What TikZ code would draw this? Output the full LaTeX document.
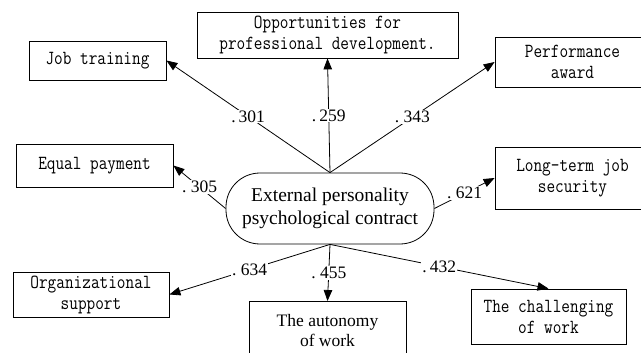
\documentclass[tikz,border=0pt]{standalone}
\usepackage{fontspec}
\setmainfont{Liberation Serif}
\newfontfamily\boxfont[FakeStretch=0.84]{Latin Modern Mono}
\usepackage{tikz}
\usetikzlibrary{positioning,arrows.meta,shapes}

\begin{document}
\begin{tikzpicture}[
        x=1pt, y=-1pt,
        item/.style={rectangle, draw=black, line width=0.8pt, align=center, inner sep=0pt, font=\boxfont\fontsize{20}{21}\selectfont},
        central/.style={rectangle, rounded corners=34pt, draw=black, line width=0.8pt, align=center, minimum width=208pt, minimum height=71pt, font=\fontsize{19.5}{23}\selectfont},
        plainbox/.style={rectangle, draw=black, line width=0.8pt, align=center, inner sep=0pt, font=\fontsize{17.5}{20}\selectfont},
        arrow/.style={-{Triangle[length=11pt,width=8.5pt]}, line width=0.8pt},
        weight/.style={fill=white, inner sep=1pt, font=\fontsize{17.5}{17.5}\selectfont}
    ]
    \useasboundingbox (0,0) rectangle (641,353);

    % Central construct
    \node[central] (centre) at (330,208.5) {External personality\\psychological contract};

    % Dimensions
    \node[item, minimum width=137pt, minimum height=39pt] (jobtr) at (97.5,60.5) {Job training};
    \node[item, minimum width=261pt, minimum height=46pt] (opport) at (327.5,35) {Opportunities for\\professional development.};
    \node[item, minimum width=155pt, minimum height=50pt] (perform) at (572.5,62) {Performance\\award};
    \node[item, minimum width=157pt, minimum height=43pt] (equal) at (94.5,165.5) {Equal payment};
    \node[item, minimum width=155pt, minimum height=62pt] (longterm) at (572.5,178) {Long-term job\\security};
    \node[item, minimum width=156pt, minimum height=45pt] (orgsup) at (91,294.5) {Organizational\\support};
    \node[plainbox, minimum width=157pt, minimum height=58pt, anchor=north] (autonomy) at (327.5,301) {The autonomy\\of work};
    \node[item, minimum width=155pt, minimum height=55pt] (challenge) at (548.5,316.5) {The challenging\\of work};

    % Loadings
    \foreach \src/\dst/\val in {north/jobtr.east/.\,301, north/opport.south/.\,259, north/perform.west/.~343,
                                west/equal.east/.~305, east/longterm.west/.~621,
                                south/orgsup.east/.~634, south/autonomy.north/.~455, south/challenge.north/.\,432} {
        \draw[arrow] (centre.\src) -- node[weight] {\val} (\dst);
    }
\end{tikzpicture}
\end{document}
